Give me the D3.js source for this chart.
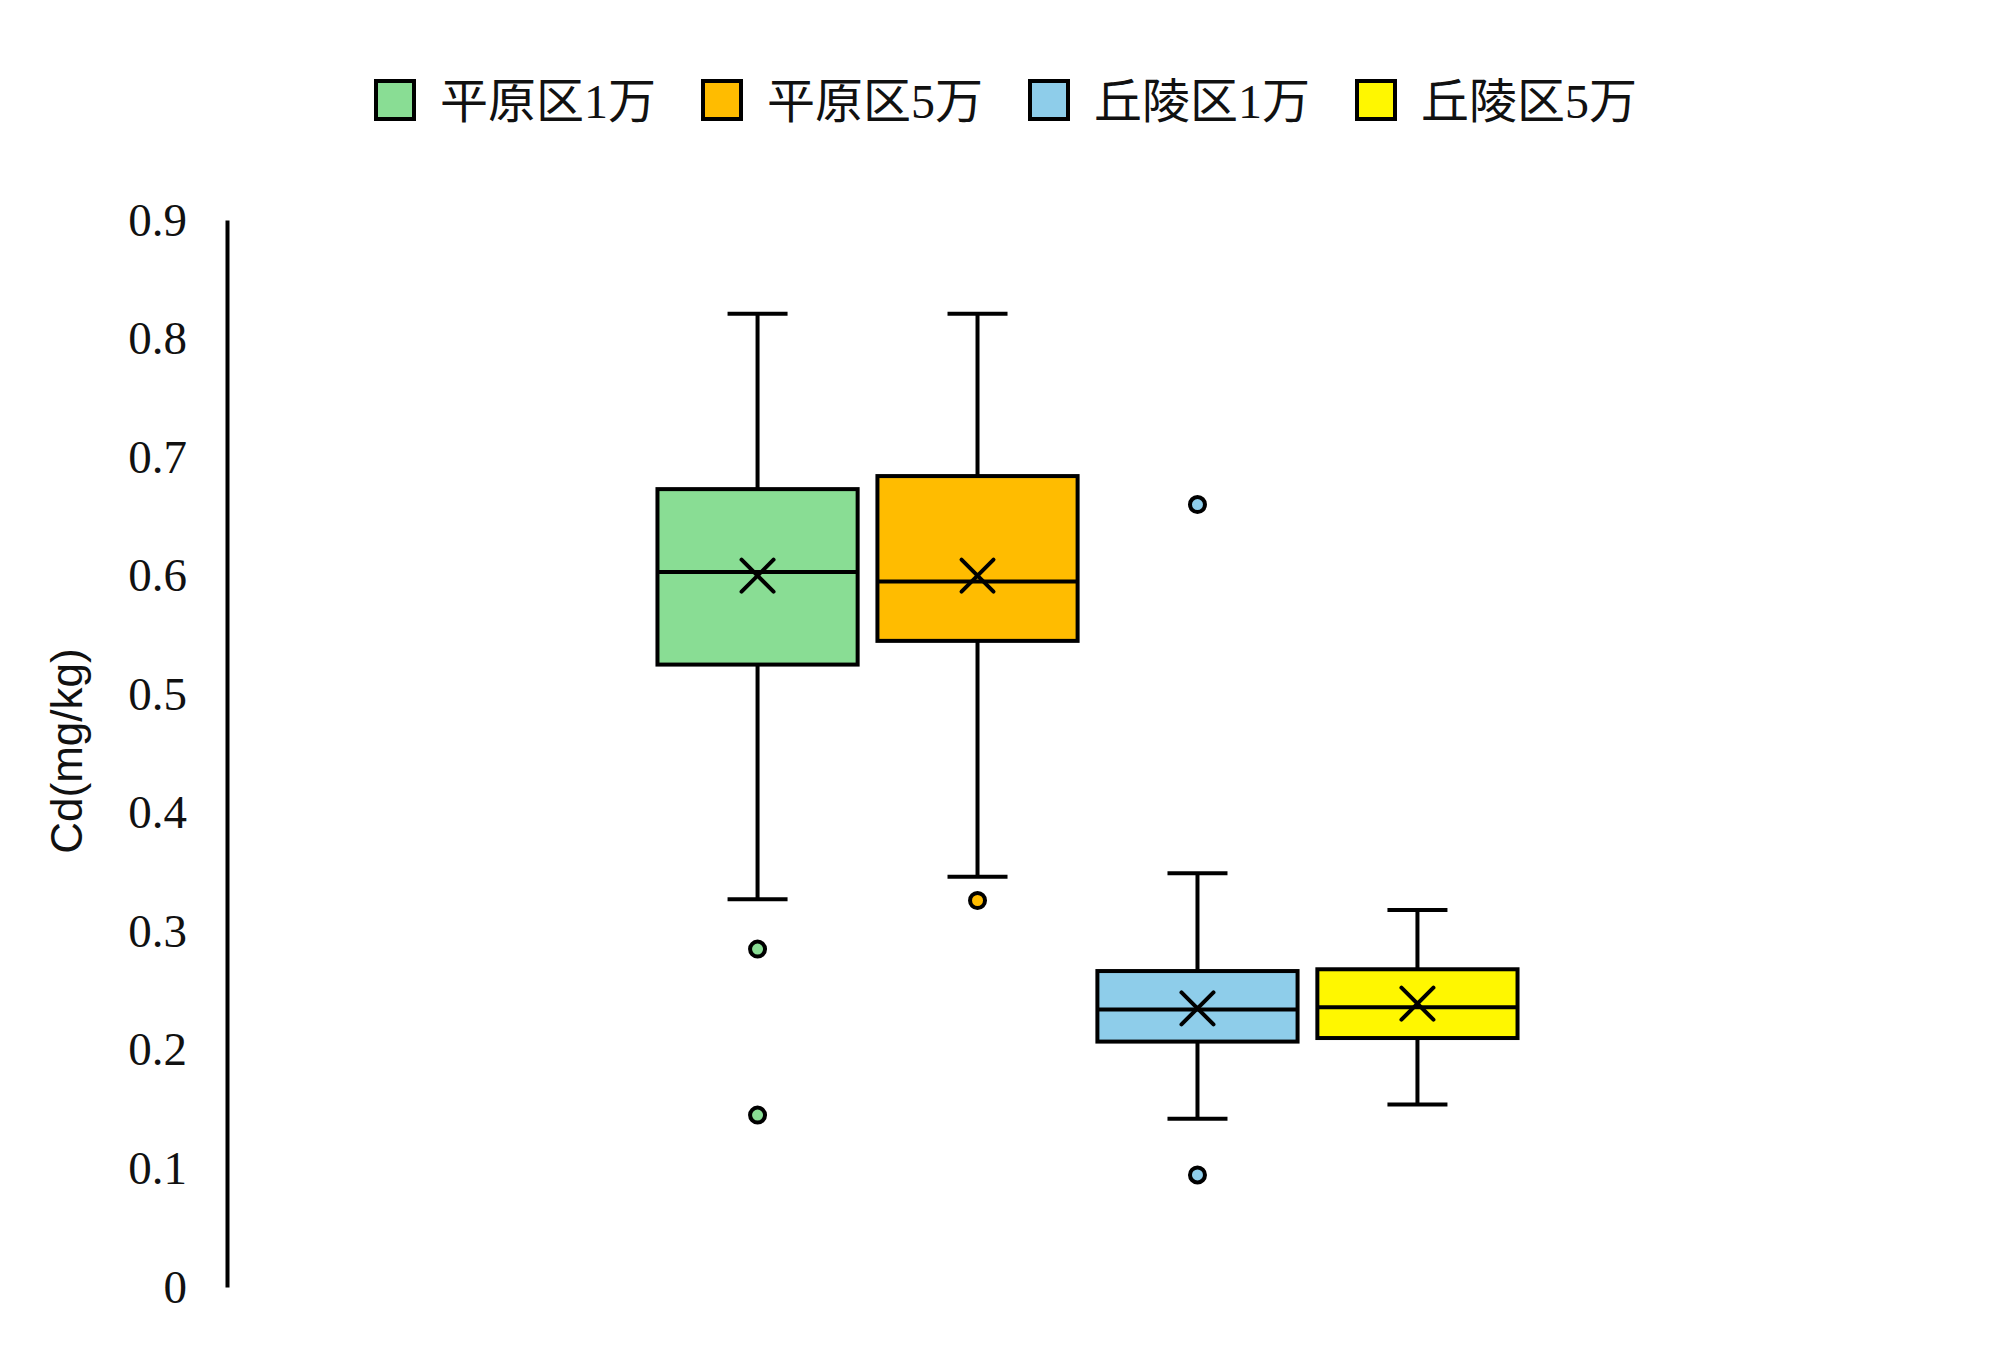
<!DOCTYPE html>
<html>
<head>
<meta charset="utf-8">
<script src="https://cdn.jsdelivr.net/npm/d3@7"></script>
<style>
  body { margin: 0; background: #fff; }
  svg { display: block; }
</style>
</head>
<body>
<div id="chart"></div>
<script>
// series and their box stats
var series = ['平原区1万', '平原区5万', '丘陵区1万', '丘陵区5万'];
var colors = ['#89dd94', '#ffbc00', '#8ecdea', '#fff700'];
var mins = [0.327, 0.346, 0.142, 0.154];
var q1s = [0.525, 0.545, 0.207, 0.210];
var medians = [0.603, 0.595, 0.234, 0.236];
var q3s = [0.673, 0.684, 0.2665, 0.268];
var maxs = [0.821, 0.821, 0.349, 0.318];
var means = [0.600, 0.600, 0.235, 0.239];
var outliers = [[0.285, 0.145], [0.326], [0.660, 0.0945], []];
var yTicks = [0, 0.1, 0.2, 0.3, 0.4, 0.5, 0.6, 0.7, 0.8, 0.9];

var svgWidth = 2000;
var svgHeight = 1346;

var margin = { top: 220, right: 52, bottom: 59, left: 227 };
var width = svgWidth - margin.left - margin.right;
var height = svgHeight - margin.top - margin.bottom;

var svg = d3.select('#chart')
  .append('svg')
  .attr('width', svgWidth)
  .attr('height', svgHeight);

var chartGroup = svg.append('g')
  .attr('transform', `translate(${margin.left}, ${margin.top})`);

// one category holding the four series
var xOuter = d3.scaleBand()
  .domain(['all'])
  .range([0, width])
  .paddingOuter(0.478)
  .paddingInner(0);

var xScale = d3.scaleBand()
  .domain(series)
  .range([0, xOuter.bandwidth()])
  .paddingInner(0.09)
  .paddingOuter(0.045);

var yScale = d3.scaleLinear()
  .domain([0, 0.9])
  .range([height, 0]);

// y axis
var leftAxis = d3.axisLeft(yScale)
  .tickValues(yTicks)
  .tickSize(0)
  .tickSizeOuter(0)
  .tickPadding(40)
  .tickFormat(d => d === 0 ? '0' : d3.format('.1f')(d));

var yAxis = chartGroup.append('g').call(leftAxis);
yAxis.select('.domain')
  .attr('stroke', '#000')
  .attr('stroke-width', 4);
yAxis.selectAll('text')
  .attr('font-family', '"Liberation Serif", "Times New Roman", serif')
  .attr('font-size', 47)
  .attr('fill', '#111');

// y axis title
svg.append('text')
  .attr('transform', `translate(66, 751) rotate(-90)`)
  .attr('text-anchor', 'middle')
  .attr('dominant-baseline', 'central')
  .attr('font-family', '"Liberation Sans", Arial, sans-serif')
  .attr('font-size', 44)
  .attr('fill', '#111')
  .text('Cd(mg/kg)');

// boxes
var boxes = chartGroup.append('g')
  .attr('transform', `translate(${xOuter('all')}, 0)`);

var lineW = 4;
var capW = 60;

series.forEach(function(s, i) {
  var g = boxes.append('g');
  var x0 = xScale(s);
  var bw = xScale.bandwidth();
  var cx = x0 + bw / 2;

  // whiskers
  g.append('line')
    .attr('x1', cx).attr('x2', cx)
    .attr('y1', yScale(maxs[i])).attr('y2', yScale(q3s[i]))
    .attr('stroke', '#000').attr('stroke-width', lineW);
  g.append('line')
    .attr('x1', cx).attr('x2', cx)
    .attr('y1', yScale(q1s[i])).attr('y2', yScale(mins[i]))
    .attr('stroke', '#000').attr('stroke-width', lineW);
  [maxs[i], mins[i]].forEach(function(v) {
    g.append('line')
      .attr('x1', cx - capW / 2).attr('x2', cx + capW / 2)
      .attr('y1', yScale(v)).attr('y2', yScale(v))
      .attr('stroke', '#000').attr('stroke-width', lineW);
  });

  // box
  g.append('rect')
    .attr('x', x0)
    .attr('y', yScale(q3s[i]))
    .attr('width', bw)
    .attr('height', yScale(q1s[i]) - yScale(q3s[i]))
    .attr('fill', colors[i])
    .attr('stroke', '#000')
    .attr('stroke-width', lineW);

  // median
  g.append('line')
    .attr('x1', x0).attr('x2', x0 + bw)
    .attr('y1', yScale(medians[i])).attr('y2', yScale(medians[i]))
    .attr('stroke', '#000').attr('stroke-width', lineW);

  // mean marker
  var my = yScale(means[i]);
  var h = 16;
  g.append('path')
    .attr('d', `M${cx - h},${my - h}L${cx + h},${my + h}M${cx - h},${my + h}L${cx + h},${my - h}`)
    .attr('stroke', '#000')
    .attr('stroke-width', 4)
    .attr('stroke-linecap', 'round')
    .attr('fill', 'none');

  // outliers
  g.selectAll('circle')
    .data(outliers[i])
    .enter()
    .append('circle')
    .attr('cx', cx)
    .attr('cy', d => yScale(d))
    .attr('r', 7.5)
    .attr('fill', colors[i])
    .attr('stroke', '#000')
    .attr('stroke-width', 4);
});

// legend
var legend = svg.append('g')
  .attr('transform', 'translate(374, 79)');

var legendItems = legend.selectAll('g')
  .data(series)
  .enter()
  .append('g')
  .attr('transform', (d, i) => `translate(${i * 327}, 0)`);

legendItems.append('rect')
  .attr('x', 2).attr('y', 2)
  .attr('width', 38).attr('height', 38)
  .attr('fill', (d, i) => colors[i])
  .attr('stroke', '#000')
  .attr('stroke-width', 4);

legendItems.append('text')
  .attr('x', 66)
  .attr('y', 22)
  .attr('dominant-baseline', 'central')
  .attr('font-family', '"Liberation Serif", "Noto Sans CJK SC", serif')
  .attr('font-size', 48)
  .attr('fill', '#111')
  .text(d => d);
</script>
</body>
</html>
